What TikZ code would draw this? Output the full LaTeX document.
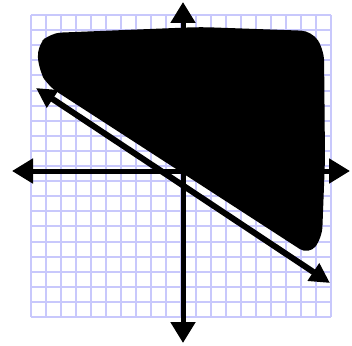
\documentclass[tikz,border=0pt]{standalone}
\usetikzlibrary{arrows.meta}
\definecolor{gridblue}{RGB}{200,200,252}
\tikzset{
  gridline/.style={draw=gridblue, line width=2pt},
  axisline/.style={draw=black, line width=5pt, {Triangle[length=21pt,width=24pt]}-{Triangle[length=21pt,width=24pt]}},
  boundline/.style={draw=black, line width=6pt, {Triangle[length=20pt,width=20pt]}-{Triangle[length=20pt,width=20pt]}},
  region/.style={fill=black, rounded corners=11pt}
}
\begin{document}
\begin{tikzpicture}[x=1pt,y=-1pt]
\useasboundingbox (0,0) rectangle (352,345);
% grid
\foreach \i in {0,...,20}{
  \draw[gridline] ({31+15*\i},15) -- ({31+15*\i},317);
  \draw[gridline] (31,{15+15.1*\i}) -- (331,{15+15.1*\i});
}
% shaded region
\fill[region] (48,86) -- (39,70) -- (37,46) -- (50,33) -- (200,27) -- (312,31) -- (324,50) -- (325,160) -- (322,238) -- (309,255) -- cycle;
% axes
\coordinate (xl) at (12,171);
\coordinate (xr) at (350,171);
\coordinate (yt) at (183,2);
\coordinate (yb) at (183,343);
\draw[axisline] (xl) -- (xr);
\draw[axisline] (yt) -- (yb);
% boundary line
\coordinate (la) at (36,88);
\coordinate (lb) at (330,283);
\draw[boundline] (la) -- (lb);
\end{tikzpicture}
\end{document}
